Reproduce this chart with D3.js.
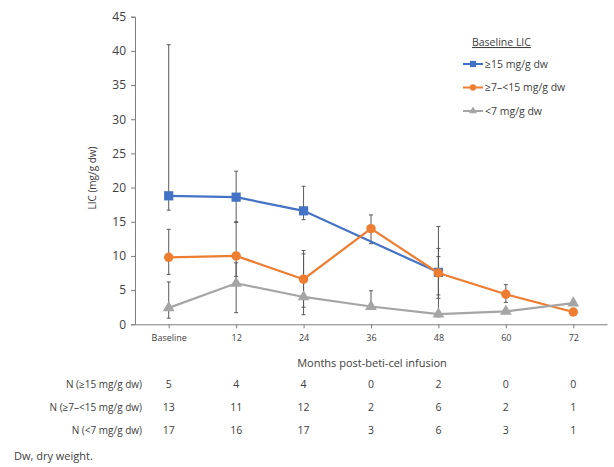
<!DOCTYPE html>
<html>
<head>
<meta charset="utf-8">
<script src="https://cdn.jsdelivr.net/npm/d3@7"></script>
<style>
  body { margin: 0; background: #fff; }
  text { font-family: "Open Sans", "Noto Sans", sans-serif; fill: #404040; }
</style>
</head>
<body>
<div id="svg-area"></div>
<script>
// Chart data
var categories = ["Baseline", "12", "24", "36", "48", "60", "72"];

var highValues = [18.8, 18.6, 16.6, null, 7.6, null, null];
var highUpper  = [40.9, 22.4, 20.2, null, 14.3, null, null];
var highLower  = [16.7, 14.9, 15.3, null, 3.8, null, null];

var midValues = [9.8, 10.0, 6.6, 14.0, 7.5, 4.4, 1.8];
var midUpper  = [13.9, 15.0, 10.8, 16.0, 11.1, 5.8, null];
var midLower  = [7.3, 7.0, 2.5, 11.8, 4.3, 3.2, null];

var lowValues = [2.4, 6.0, 4.0, 2.6, 1.5, 1.9, 3.1];
var lowUpper  = [6.2, 9.0, 10.3, 4.9, 9.9, null, null];
var lowLower  = [0.9, 1.7, 1.4, 2.2, 1.1, null, null];

var yTicks = [0, 5, 10, 15, 20, 25, 30, 35, 40, 45];

var nLabels = ["N (\u226515 mg/g dw)", "N (\u22657\u2013<15 mg/g dw)", "N (<7 mg/g dw)"];
var nHigh = [5, 4, 4, 0, 2, 0, 0];
var nMid  = [13, 11, 12, 2, 6, 2, 1];
var nLow  = [17, 16, 17, 3, 6, 3, 1];

var legendLabels = ["\u226515 mg/g dw", "\u22657\u2013<15 mg/g dw", "<7 mg/g dw"];

// SVG area
var svgWidth = 614;
var svgHeight = 467;

var svg = d3.select("#svg-area")
  .append("svg")
  .attr("width", svgWidth)
  .attr("height", svgHeight);

// Scales
var xScale = d3.scalePoint()
  .domain(categories)
  .range([135, 607])
  .padding(0.5);

var yScale = d3.scaleLinear()
  .domain([0, 45])
  .range([324.3, 16.7]);

var axisColor = "#7f7f7f";

// y axis
var leftAxis = d3.axisLeft(yScale).tickValues(yTicks).tickSize(4).tickPadding(5);
var yAxisG = svg.append("g")
  .attr("transform", "translate(135,0)")
  .call(leftAxis);
yAxisG.select(".domain").attr("stroke", axisColor);
yAxisG.selectAll(".tick line").attr("stroke", axisColor);
yAxisG.selectAll(".tick text")
  .style("font-size", "12px")
  .attr("fill", "#404040");

// x axis
var bottomAxis = d3.axisBottom(xScale).tickSize(4).tickPadding(6).tickSizeOuter(0);
var xAxisG = svg.append("g")
  .attr("transform", "translate(0,324.3)")
  .call(bottomAxis);
xAxisG.select(".domain").attr("stroke", axisColor);
xAxisG.selectAll(".tick line").attr("stroke", axisColor);
xAxisG.selectAll(".tick text")
  .style("font-size", "9px")
  .attr("fill", "#404040");

// axis titles
svg.append("text")
  .attr("transform", "translate(96,178) rotate(-90)")
  .attr("text-anchor", "middle")
  .style("font-size", "10px")
  .text("LIC (mg/g dw)");

svg.append("text")
  .attr("x", 372)
  .attr("y", 367)
  .attr("text-anchor", "middle")
  .style("font-size", "11px")
  .text("Months post-beti-cel infusion");

// series
var series = [
  { values: highValues, upper: highUpper, lower: highLower, color: "#4472C4", shape: d3.symbolSquare, size: 85 },
  { values: midValues, upper: midUpper, lower: midLower, color: "#ED7D31", shape: d3.symbolCircle, size: 70 },
  { values: lowValues, upper: lowUpper, lower: lowLower, color: "#A5A5A5", shape: d3.symbolTriangle, size: 60 }
];

function toPoints(s) {
  return categories.map(function(c, i) {
    return { cat: c, v: s.values[i], hi: s.upper[i], lo: s.lower[i] };
  });
}

// error bars first, so they sit under the lines
series.forEach(function(s) {
  var pts = toPoints(s).filter(function(d) { return d.hi != null && d.lo != null; });
  var g = svg.append("g");
  g.selectAll("line.bar")
    .data(pts)
    .enter()
    .append("line")
    .attr("x1", d => xScale(d.cat))
    .attr("x2", d => xScale(d.cat))
    .attr("y1", d => yScale(d.hi))
    .attr("y2", d => yScale(d.lo))
    .attr("stroke", "#595959")
    .attr("stroke-width", 1);
  ["hi", "lo"].forEach(function(k) {
    g.selectAll("line.cap-" + k)
      .data(pts)
      .enter()
      .append("line")
      .attr("x1", d => xScale(d.cat) - 2)
      .attr("x2", d => xScale(d.cat) + 2)
      .attr("y1", d => yScale(d[k]))
      .attr("y2", d => yScale(d[k]))
      .attr("stroke", "#595959")
      .attr("stroke-width", 1);
  });
});

var line = d3.line()
  .x(d => xScale(d.cat))
  .y(d => yScale(d.v));

series.forEach(function(s) {
  var pts = toPoints(s).filter(function(d) { return d.v != null; });
  svg.append("path")
    .datum(pts)
    .attr("d", line)
    .attr("fill", "none")
    .attr("stroke", s.color)
    .attr("stroke-width", 2.2);
  svg.selectAll(null)
    .data(pts)
    .enter()
    .append("path")
    .attr("d", d3.symbol().type(s.shape).size(s.size))
    .attr("transform", d => "translate(" + xScale(d.cat) + "," + yScale(d.v) + ")")
    .attr("fill", s.color);
});

// legend
var legend = svg.append("g");
legend.append("text")
  .attr("x", 472)
  .attr("y", 46)
  .style("font-size", "10.5px")
  .style("text-decoration", "underline")
  .attr("fill", "#262626")
  .text("Baseline LIC");

legendLabels.forEach(function(lbl, i) {
  var y = 64 + i * 23.5;
  var s = series[i];
  legend.append("line")
    .attr("x1", 463).attr("x2", 483)
    .attr("y1", y).attr("y2", y)
    .attr("stroke", s.color)
    .attr("stroke-width", 2);
  legend.append("path")
    .attr("d", d3.symbol().type(s.shape).size(s.size * 0.45))
    .attr("transform", "translate(473," + y + ")")
    .attr("fill", s.color);
  legend.append("text")
    .attr("x", 485)
    .attr("y", y + 3.5)
    .style("font-size", "10.5px")
    .attr("fill", "#262626")
    .text(lbl);
});

// N table
var nRows = [nHigh, nMid, nLow];
nRows.forEach(function(row, r) {
  var y = 388 + r * 23;
  svg.append("text")
    .attr("x", 142)
    .attr("y", y)
    .attr("text-anchor", "end")
    .style("font-size", "10px")
    .text(nLabels[r]);
  svg.selectAll(null)
    .data(row)
    .enter()
    .append("text")
    .attr("x", (d, i) => xScale(categories[i]))
    .attr("y", y)
    .attr("text-anchor", "middle")
    .style("font-size", "10.5px")
    .text(d => d);
});

svg.append("text")
  .attr("x", 14)
  .attr("y", 460)
  .style("font-size", "11px")
  .text("Dw, dry weight.");
</script>
</body>
</html>
